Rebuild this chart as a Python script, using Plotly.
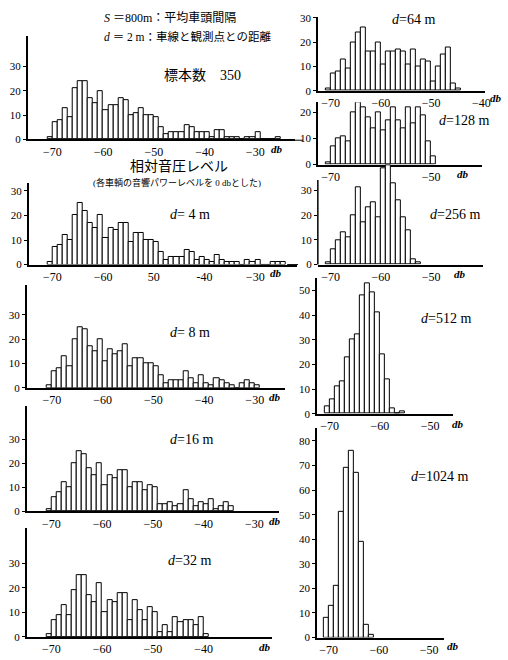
import plotly.graph_objects as go

W, H = 508, 660

# Histogram counts in 1 dB bins; the first bin of every list spans -71 .. -70 dB
BIN_START = -71
d2 = [1, 7, 8, 13, 9, 21, 24, 24, 17, 15, 20, 12, 14, 14, 17, 16, 10, 11, 13, 10,
      10, 9, 5, 2, 3, 3, 3, 6, 5, 3, 3, 3, 1, 4, 4, 1, 1, 1, 0, 1, 1, 3, 0, 0, 0, 1]
d4 = [1, 7, 8, 12, 10, 20, 25, 22, 17, 15, 20, 11, 15, 14, 17, 17, 9, 13, 13, 10,
      10, 9, 5, 2, 3, 3, 3, 6, 5, 2, 3, 2, 1, 4, 2, 1, 1, 1, 0, 2, 1, 2, 0, 0, 1, 1, 1]
d8 = [1, 7, 8, 13, 9, 20, 25, 24, 17, 15, 20, 11, 16, 14, 15, 18, 9, 12, 12, 10,
      10, 9, 5, 2, 3, 3, 3, 7, 4, 2, 5, 2, 1, 4, 3, 2, 1, 0, 2, 3, 2, 1]
d16 = [1, 6, 8, 12, 10, 20, 25, 24, 18, 15, 20, 11, 15, 14, 17, 17, 10, 12, 12, 9,
       11, 10, 3, 3, 4, 2, 3, 9, 5, 2, 4, 3, 5, 1, 2, 4, 2]
d32 = [1, 7, 9, 13, 9, 19, 25, 25, 17, 14, 22, 10, 15, 14, 18, 18, 7, 15, 11, 7,
       12, 10, 2, 5, 2, 8, 6, 7, 7, 5, 8, 1]
d64 = [1, 7, 8, 13, 9, 20, 24, 26, 16, 16, 20, 11, 16, 16, 17, 16, 11, 17, 10, 13,
       12, 4, 10, 15, 18, 3, 1]
d128 = [1, 7, 10, 11, 9, 20, 24, 22, 18, 14, 20, 13, 17, 22, 17, 14, 22, 16, 22, 19, 9, 3]
d256 = [1, 6, 10, 13, 11, 20, 31, 17, 23, 25, 19, 39, 40, 33, 26, 19, 14, 2, 1]
d512 = [3, 6, 11, 13, 23, 30, 32, 48, 53, 49, 41, 24, 14, 2, 0, 1]
d1024 = [8, 13, 21, 51, 69, 76, 67, 39, 5, 1]

# x tick labels (dB)
ticks_left = [-70, -60, -50, -40, -30]
labels_left = ["−70", "−60", "−50", "−40", "−30"]
labels_4m = ["−70", "−60", "50", "-40", "−30"]
ticks_right = [-70, -60, -50, -40]
labels_right = ["−70", "−60", "−50", "−40"]

SERIF = "Liberation Serif, DejaVu Serif, serif"
CJK = "Liberation Serif, Noto Sans CJK JP, sans-serif"

# panel frames in pixels: left, right, top, baseline, px per count, px per dB, pixel of -70 dB
panels = [
    dict(c=d2, x0=28, x1=298, top=31.7, base=136.7, ppu=2.47, ppd=5.12, p70=53,
         xt=ticks_left, xl=labels_left, yt=[0, 10, 20, 30]),
    dict(c=d4, x0=29, x1=300, top=181, base=264, ppu=2.5, ppd=5.12, p70=53,
         xt=ticks_left, xl=labels_4m, yt=[0, 10, 20, 30]),
    dict(c=d8, x0=27, x1=288, top=285, base=389.3, ppu=2.47, ppd=5.12, p70=52.5,
         xt=ticks_left, xl=labels_left, yt=[0, 10, 20, 30]),
    dict(c=d16, x0=27, x1=282, top=408, base=515, ppu=2.44, ppd=5.12, p70=52,
         xt=ticks_left, xl=labels_left, yt=[0, 10, 20, 30]),
    dict(c=d32, x0=27, x1=275, top=532, base=642.7, ppu=2.5, ppd=5.12, p70=52,
         xt=ticks_left[:4], xl=labels_left[:4], yt=[0, 10, 20, 30]),
    dict(c=d64, x0=321, x1=490, top=11.7, base=87.3, ppu=2.47, ppd=5.07, p70=334,
         xt=ticks_right, xl=labels_right, yt=[0, 10, 20, 30]),
    dict(c=d128, x0=321, x1=487, top=99, base=162.3, ppu=2.65, ppd=5.07, p70=334,
         xt=[-70, -50], xl=["−70", "−50"], yt=[0, 10, 20]),
    dict(c=d256, x0=321, x1=488, top=162, base=264, ppu=2.52, ppd=5.07, p70=334,
         xt=ticks_right[:3], xl=labels_right[:3], yt=[0, 10, 20, 30], axis_top=178),
    dict(c=d512, x0=320, x1=457, top=278, base=415.7, ppu=2.51, ppd=5.07, p70=333,
         xt=ticks_right[:3], xl=labels_right[:3], yt=[0, 10, 20, 30, 40, 50]),
    dict(c=d1024, x0=320, x1=448, top=430, base=643.3, ppu=2.5, ppd=5.07, p70=332,
         xt=ticks_right[:3], xl=labels_right[:3], yt=[0, 10, 20, 30, 40, 50, 60, 70, 80]),
]

fig = go.Figure()
layout = dict(
    width=W, height=H, margin=dict(l=0, r=0, t=0, b=0),
    paper_bgcolor="white", plot_bgcolor="rgba(0,0,0,0)",
    showlegend=False, bargap=0,
)
shapes = []

for k, p in enumerate(panels, start=1):
    sfx = "" if k == 1 else str(k)
    counts = p["c"]
    xs = [BIN_START + i + 0.5 for i in range(len(counts))]
    fig.add_trace(go.Bar(
        x=xs, y=counts, width=1,
        marker=dict(color="white", line=dict(color="black", width=1)),
        xaxis="x" + sfx, yaxis="y" + sfx, hoverinfo="skip",
    ))
    x_lo = -70 - (p["p70"] - p["x0"]) / p["ppd"]
    x_hi = x_lo + (p["x1"] - p["x0"]) / p["ppd"]
    y_hi = (p["base"] - p["top"]) / p["ppu"]
    own_line = "axis_top" not in p
    layout["xaxis" + sfx] = dict(
        domain=[p["x0"] / W, p["x1"] / W], range=[x_lo, x_hi], anchor="y" + sfx,
        showline=True, linecolor="black", linewidth=1.5, showgrid=False, zeroline=False,
        tickmode="array", tickvals=p["xt"], ticktext=p["xl"], ticks="",
        tickfont=dict(family=SERIF, size=12, color="black"), fixedrange=True,
    )
    layout["yaxis" + sfx] = dict(
        domain=[1 - p["base"] / H, 1 - p["top"] / H], range=[0, y_hi], anchor="x" + sfx,
        showline=own_line, linecolor="black", linewidth=1.5, showgrid=False, zeroline=False,
        tickmode="array", tickvals=p["yt"], ticks="outside", ticklen=3, tickwidth=1,
        tickcolor="black", tickfont=dict(family=SERIF, size=11, color="black"),
        fixedrange=True,
    )
    if not own_line:
        shapes.append(dict(type="line", xref="paper", yref="paper",
                           x0=p["x0"] / W, x1=p["x0"] / W,
                           y0=1 - p["base"] / H, y1=1 - p["axis_top"] / H,
                           line=dict(color="black", width=1.5)))

# short stray strokes beside two of the right-hand y axes
for (xa, xb, yy) in [(292, 306, 137.5), (290, 301, 264)]:
    shapes.append(dict(type="line", xref="paper", yref="paper",
                       x0=xa / W, x1=xb / W, y0=1 - yy / H, y1=1 - yy / H,
                       line=dict(color="black", width=1)))

layout["shapes"] = shapes


def note(text, x, y, size, family=SERIF, anchor="center", pad=1):
    return dict(text=text, x=x / W, y=1 - y / H, xref="paper", yref="paper",
                xanchor=anchor, yanchor="middle", showarrow=False, borderpad=pad,
                font=dict(family=family, size=size, color="black"))


annotations = [
    note("<i>S</i> ＝800m：平均車頭間隔", 103, 13, 12, CJK, "left"),
    note("<i>d</i> ＝ 2 m：車線と観測点との距離", 103, 32, 11.5, CJK, "left"),
    note("標本数　350", 205, 72, 14, CJK),
    note("相対音圧レベル", 181, 164, 14, CJK, "center", 0),
    note("(各車輌の音響パワーレベルを 0 dbとした)", 179, 180, 9, CJK, "center", 0),
    note("<i>d</i>= 4 m", 192, 213, 14),
    note("<i>d</i>= 8 m", 192, 333, 14),
    note("<i>d</i>=16 m", 193, 442, 14),
    note("<i>d</i>=32 m", 191, 565, 14),
    note("<i>d</i>=64 m", 418, 15, 14),
    note("<i>d</i>=128 m", 469, 117, 14),
    note("<i>d</i>=256 m", 460, 213, 14),
    note("<i>d</i>=512 m", 450, 319, 14),
    note("<i>d</i>=1024 m", 444, 479, 14),
]
db_spots = [(272, 146), (271, 273), (270, 399), (270, 525), (260, 653),
            (493, 95), (460, 172), (456, 274), (454, 426), (449, 652)]
for (xx, yy) in db_spots:
    annotations.append(note("<b><i>db</i></b>", xx, yy, 11, SERIF, "left"))
layout["annotations"] = annotations

fig.update_layout(**layout)
fig.write_html("out.html")
